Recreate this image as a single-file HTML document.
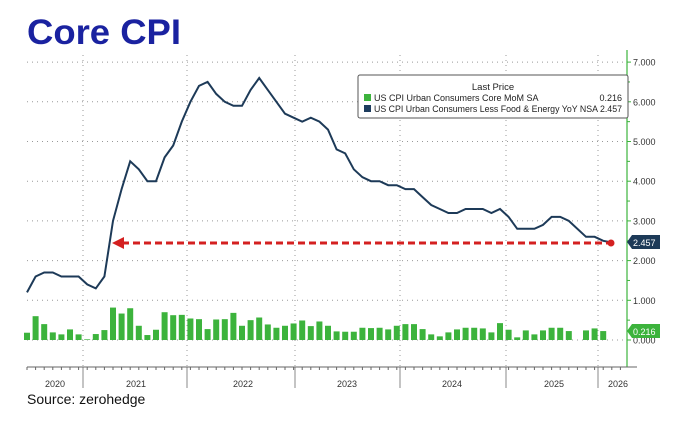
<!DOCTYPE html>
<html><head><meta charset="utf-8"><style>
html,body{margin:0;padding:0;background:#fff;width:694px;height:425px;overflow:hidden}
svg{display:block}
</style></head><body>
<svg id="s" width="694" height="425" xmlns="http://www.w3.org/2000/svg" font-family="Liberation Sans, sans-serif">
<text x="27" y="44" font-size="35" font-weight="bold" fill="#1a22a0" textLength="154" lengthAdjust="spacingAndGlyphs">Core CPI</text>
<g id="g"></g>
<rect x="358" y="75" width="270" height="43" rx="2" fill="#fff" stroke="#555" stroke-width="1"/>
<text x="493" y="90" font-size="9.5" text-anchor="middle" fill="#222">Last Price</text>
<rect x="364" y="94" width="7" height="7" fill="#3cb33c"/>
<rect x="364" y="105" width="7" height="7" fill="#1d3c5e"/>
<text x="374" y="101" font-size="9" fill="#222">US CPI Urban Consumers Core MoM SA</text>
<text x="622" y="101" font-size="9" fill="#222" text-anchor="end">0.216</text>
<text x="374" y="112" font-size="9" fill="#222" textLength="248" lengthAdjust="spacingAndGlyphs">US CPI Urban Consumers Less Food &amp; Energy YoY NSA 2.457</text>
<text x="27" y="404" font-size="14" fill="#111">Source: zerohedge</text>
</svg>
<script>
var g=document.getElementById('g'),h='';
function Y(v){return 340-39.7*v;}
function X(i){return 27+i*8.6;}
var L=[1.2,1.6,1.7,1.7,1.6,1.6,1.6,1.4,1.3,1.6,3.0,3.8,4.5,4.3,4.0,4.0,4.6,4.9,5.5,6.0,6.4,6.5,6.2,6.0,5.9,5.9,6.3,6.6,6.3,6.0,5.7,5.6,5.5,5.6,5.5,5.3,4.8,4.7,4.3,4.1,4.0,4.0,3.9,3.9,3.8,3.8,3.6,3.4,3.3,3.2,3.2,3.3,3.3,3.3,3.2,3.3,3.1,2.8,2.8,2.8,2.9,3.1,3.1,3.0,null,2.6,2.6,2.5,2.457];
var T=[158,108,132,157,163,148,163,178,162,150,82,100,84,137,165,149,96,105,104,115,117,147,118,117,98,137,120,112,133,143,137,130,121,138,124,137,154,155,155,143,144,143,148,137,132,132,147,163,169,157,148,143,143,145,157,129,149,172,151,163,151,143,143,153,null,151,145,153];
for(var v=0;v<=7;v++){var y=Y(v);h+='<line x1="27" x2="627" y1="'+y+'" y2="'+y+'" stroke="#999" stroke-width="1" stroke-dasharray="1,4"/>';
h+='<line x1="627" x2="631" y1="'+y+'" y2="'+y+'" stroke="#3cb33c"/>';
h+='<text x="633" y="'+(y+3.5)+'" font-size="9" fill="#333">'+v+'.000</text>';}
for(var v=0.5;v<7.5;v++){var y=Y(v);h+='<line x1="627" x2="630" y1="'+y+'" y2="'+y+'" stroke="#3cb33c"/>';}
var sep=[83,187,295,400,506,598];
sep.forEach(function(x){h+='<line x1="'+x+'" x2="'+x+'" y1="55" y2="367" stroke="#999" stroke-dasharray="1,4"/>';h+='<line x1="'+x+'" x2="'+x+'" y1="367" y2="388" stroke="#888"/>';});
h+='<line x1="627" x2="627" y1="50" y2="367" stroke="#3cb33c" stroke-width="1.2"/>';
h+='<line x1="27" x2="637" y1="367" y2="367" stroke="#666"/>';
for(var i=0;i<70;i++){var x=X(i);if(x<637)h+='<line x1="'+x+'" x2="'+x+'" y1="367" y2="370" stroke="#666"/>';}
var yl=[["2020",55],["2021",136],["2022",243],["2023",347],["2024",452],["2025",554],["2026",618]];
yl.forEach(function(a){h+='<text x="'+a[1]+'" y="387" font-size="9" fill="#333" text-anchor="middle">'+a[0]+'</text>';});
T.forEach(function(t,i){if(t==null)return;var v=(180-t)/120;var y=Y(v);h+='<rect x="'+(X(i)-3)+'" y="'+y+'" width="6" height="'+Math.max(340-y,0.5)+'" fill="#3cb33c"/>';});
var p='';L.forEach(function(v,i){if(v==null)return;p+=(p?'L':'M')+X(i).toFixed(1)+','+Y(v).toFixed(1);});
h+='<path d="'+p+'" fill="none" stroke="#1d3a58" stroke-width="2"/>';
h+='<line x1="122" x2="610" y1="243" y2="243" stroke="#d42020" stroke-width="3" stroke-dasharray="7,4"/>';
h+='<polygon points="112,243 124,237 124,249" fill="#d42020"/><circle cx="611" cy="243" r="3.5" fill="#d42020"/>';
h+='<polygon points="627,242 632,235 660,235 660,249 632,249" fill="#1d3a58"/><text x="633" y="246" font-size="9" fill="#fff">2.457</text>';
h+='<polygon points="627,331 632,324 660,324 660,338 632,338" fill="#3cb33c"/><text x="633" y="335" font-size="9" fill="#fff">0.216</text>';
g.innerHTML=h;
</script>
</body></html>
